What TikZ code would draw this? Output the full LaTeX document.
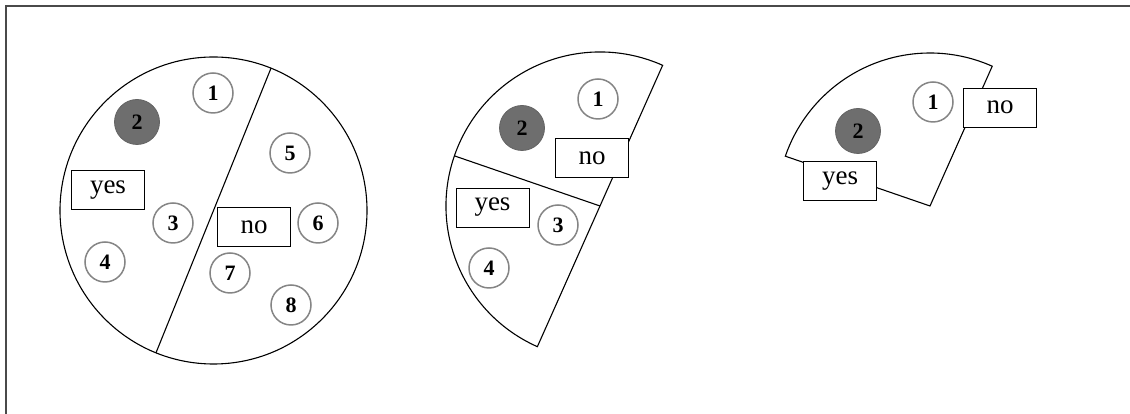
\documentclass[tikz,border=0pt]{standalone}
\usepackage{fontspec}
\setmainfont{Liberation Serif}
\usetikzlibrary{calc}
\definecolor{ringgray}{HTML}{858585}
\definecolor{dotgray}{HTML}{6E6E6E}
\definecolor{framegray}{HTML}{4A4A4A}
\begin{document}
\begin{tikzpicture}[x=1pt,y=1pt,
  ball/.style={circle,draw=ringgray,line width=1.5pt,fill=white,minimum size=40pt,inner sep=0pt,font=\fontsize{22}{22}\selectfont\bfseries},
  chosen/.style={circle,draw=dotgray!90!black,line width=0.8pt,fill=dotgray,minimum size=45pt,inner sep=0pt,font=\fontsize{22}{22}\selectfont\bfseries},
  tag/.style={rectangle,draw=black,line width=0.8pt,fill=white,minimum width=73pt,minimum height=39pt,inner sep=0pt,font=\fontsize{27}{27}\selectfont},
  edge/.style={draw=black,line width=1.1pt},
  frameline/.style={draw=framegray,line width=1.6pt}]
\useasboundingbox (0,0) rectangle (1130,414);
\fill[white] (0,0) rectangle (1130,414);

% outer frame (top and left sides)
\coordinate (fr1) at (1130,408);
\coordinate (fr2) at (6,408);
\coordinate (fr3) at (6,0);
\draw[frameline] (fr1) -- (fr2) -- (fr3);

% ---- full set: circle split by a diameter ----
\coordinate (cA) at (213.5,203.5);
\draw[edge] (cA) circle[radius=153.5];
\draw[edge] ($(cA)+(68:153.5)$) -- ($(cA)+(248:153.5)$);

\node[ball]   (a1) at (213,321) {1};
\node[chosen] (a2) at (137,292) {2};
\node[ball]   (a3) at (173,191) {3};
\node[ball]   (a4) at (105,152) {4};
\node[ball]   (a5) at (290,261) {5};
\node[ball]   (a6) at (318,191) {6};
\node[ball]   (a7) at (230,141) {7};
\node[ball]   (a8) at (291,109) {8};
\node[tag]    (ayes) at (108,224) {yes};
\node[tag]    (ano)  at (254,187) {no};

% ---- half disc split by a radius ----
\coordinate (cB) at (600,208);
\draw[edge] ($(cB)+(66:154)$) arc[start angle=66,end angle=246,radius=154] -- cycle;
\draw[edge] (cB) -- ($(cB)+(161:154)$);

\node[ball]   (b1) at (598,315) {1};
\node[chosen] (b2) at (522,286) {2};
\node[ball]   (b3) at (558,189) {3};
\node[ball]   (b4) at (489,146) {4};
\node[tag]    (bno)  at (592,256) {no};
\node[tag]    (byes) at (492.5,206.5) {yes};

% ---- remaining sector ----
\coordinate (cC) at (930,208);
\draw[edge] (cC) -- ($(cC)+(66:153)$) arc[start angle=66,end angle=161,radius=153] -- cycle;

\node[ball]   (c1) at (933,312) {1};
\node[chosen] (c2) at (858,283) {2};
\node[tag]    (cno)  at (1000,306.5) {no};
\node[tag]    (cyes) at (840,233) {yes};
\end{tikzpicture}
\end{document}
